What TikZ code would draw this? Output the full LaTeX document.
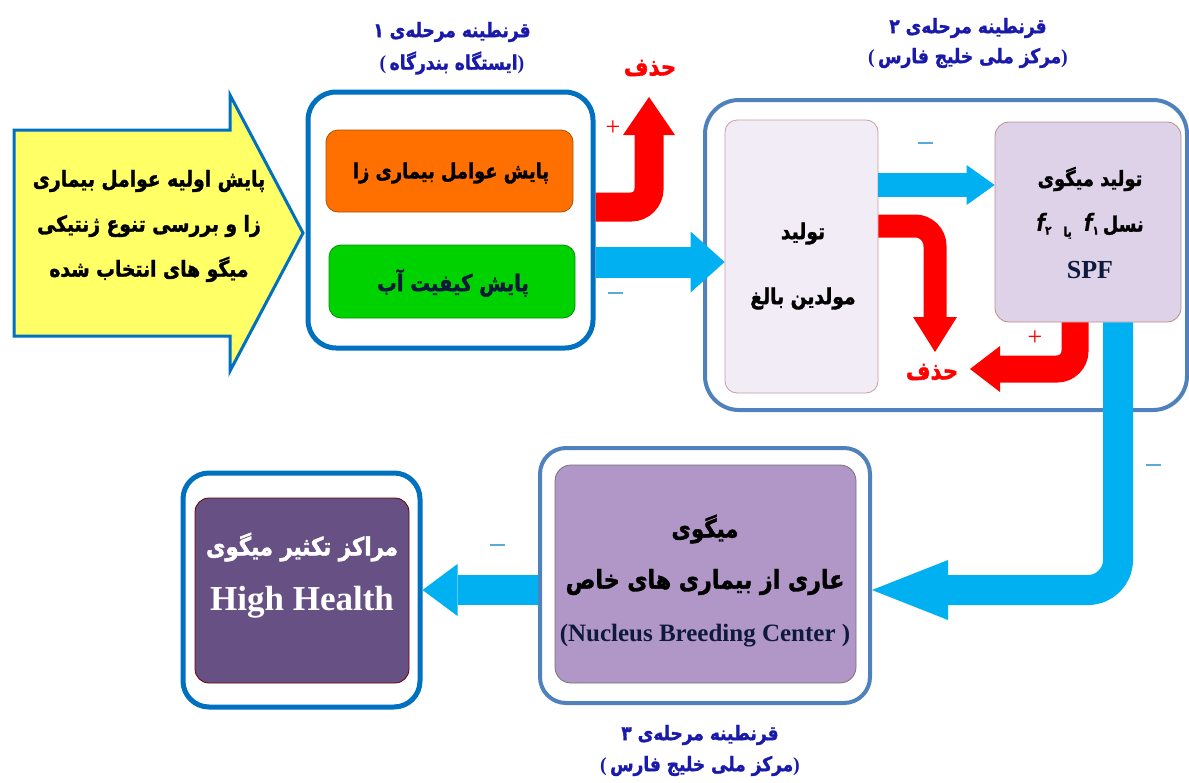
\documentclass[tikz,border=0pt]{standalone}
\usepackage{fontspec}
\setmainfont{Liberation Serif}
\newfontfamily\fa[Script=Arabic,FakeStretch=0.85,BoldFeatures={FakeBold=1.5}]{DejaVu Sans}
\TeXXeTstate=1
\usetikzlibrary{arrows.meta}
\newcommand\rtl[1]{{\fa\beginR #1\endR}}
\newcommand\lp{{\rmfamily\bfseries(}}
\newcommand\rp{{\rmfamily\bfseries)}}
\newcommand\minusbar{\rule{15pt}{2.5pt}}
\definecolor{boxblue}{RGB}{0,112,192}
\definecolor{steel}{RGB}{79,129,189}
\definecolor{yel}{RGB}{255,255,102}
\definecolor{orng}{RGB}{255,112,0}
\definecolor{grn}{RGB}{0,210,0}
\definecolor{lav1}{RGB}{242,236,246}
\definecolor{lav2}{RGB}{221,210,232}
\definecolor{pur1}{RGB}{176,151,200}
\definecolor{pur2}{RGB}{102,80,132}
\definecolor{lblue}{RGB}{0,176,240}
\definecolor{minus}{RGB}{90,170,220}
\definecolor{ttl}{RGB}{25,25,170}
\definecolor{navy}{RGB}{15,25,60}
\begin{document}
\begin{tikzpicture}[x=1pt,y=-1pt,
  outerA/.style={draw=boxblue,line width=5pt,rounded corners=28pt,fill=white,inner sep=0pt},
  outerB/.style={draw=steel,line width=4pt,rounded corners=30pt,fill=white,inner sep=0pt},
  inbox/.style={rounded corners=12pt,line width=0.8pt,inner sep=0pt},
  fatext/.style={font=\fa\bfseries\fontsize{21}{24}\selectfont,align=center,inner sep=0pt},
  ttltext/.style={font=\fa\bfseries\fontsize{20}{23}\selectfont,text=ttl,align=center,inner sep=0pt},
  deltext/.style={font=\fa\bfseries\fontsize{25}{28}\selectfont,text=red,inner sep=0pt},
  signtext/.style={font=\fontsize{26}{26}\selectfont,inner sep=0pt},
  bluearrow/.style={draw=lblue,line cap=butt,line join=miter},
  redarrow/.style={draw=red,line cap=butt,line join=miter},
]
\useasboundingbox (0,0) rectangle (1189,782);

% left yellow arrow
\draw[draw=boxblue,line width=3pt,fill=yel,line join=miter]
  (14,130) -- (230,130) -- (230,95) -- (303,233) -- (230,371) -- (230,336) -- (14,336) -- cycle;
\node[fatext,font=\fa\bfseries\fontsize{22}{45}\selectfont] (intro) at (149,226)
  {\rtl{پایش اولیه عوامل بیماری}\\\rtl{زا و بررسی تنوع ژنتیکی}\\\rtl{میگو های انتخاب شده}};

% stage 1
\node[outerA,minimum width=285pt,minimum height=256pt] (s1) at (450.5,220) {};
\node[inbox,fill=orng,draw=orng!70!black,minimum width=247pt,minimum height=82pt] (mon1) at (449.5,171) {};
\node[fatext] (mon1t) at (451,173) {\rtl{پایش عوامل بیماری زا}};
\node[inbox,fill=grn,draw=grn!70!black,minimum width=246pt,minimum height=73pt] (mon2) at (452,281.5) {};
\node[fatext,font=\fa\bfseries\fontsize{23}{26}\selectfont,text=navy] (mon2t) at (453,283) {\rtl{پایش کیفیت آب}};
\node[ttltext] (t1a) at (452,32) {\rtl{قرنطینه مرحله‌ی ۱}};
\node[ttltext] (t1b) at (452,63) {\lp\,\rtl{ایستگاه بندرگاه}\rp};

% stage 2
\node[outerB,rounded corners=34pt,minimum width=482pt,minimum height=310pt] (s2) at (946,255) {};
\node[inbox,fill=lav1,draw=red!25!gray!60,minimum width=153pt,minimum height=273pt] (b1) at (801.5,256.5) {};
\node[fatext,font=\fa\bfseries\fontsize{22}{65}\selectfont] (b1t) at (803,266) {\rtl{تولید}\\\rtl{مولدین بالغ}};
\node[inbox,rounded corners=14pt,fill=lav2,draw=red!30!gray!70,minimum width=186pt,minimum height=200pt] (b2) at (1088,222) {};
\node[fatext] (b2a) at (1090,179) {\rtl{تولید میگوی}};
\node[fatext,inner sep=0pt] (b2b) at (1090,226)
  {{\bfseries\itshape\fontsize{24}{24}\selectfont f}\raisebox{-3pt}{\fa\bfseries\fontsize{12}{12}\selectfont ۲}\hspace{12pt}\raisebox{-5pt}{\rtl{\fontsize{13}{13}\selectfont یا}}\hspace{12pt}{\bfseries\itshape\fontsize{24}{24}\selectfont f}\raisebox{-3pt}{\fa\bfseries\fontsize{12}{12}\selectfont ۱}\hspace{4pt}\rtl{نسل}};
\node[font=\bfseries\fontsize{26}{26}\selectfont,text=navy,inner sep=0pt] (b2c) at (1090,270) {SPF};
\node[ttltext] (t2a) at (968,28) {\rtl{قرنطینه مرحله‌ی ۲}};
\node[ttltext] (t2b) at (968,58) {\lp\,\rtl{مرکز ملی خلیج فارس}\rp};

% stage 3
\node[outerB,rounded corners=26pt,minimum width=330pt,minimum height=255pt] (s3) at (705,575.5) {};
\node[inbox,rounded corners=16pt,fill=pur1,draw=black!55,minimum width=301pt,minimum height=218pt] (c3) at (705.5,574) {};
\node[fatext,font=\fa\bfseries\fontsize{25}{28}\selectfont] (c3a) at (705,529) {\rtl{میگوی}};
\node[fatext,font=\fa\bfseries\fontsize{26}{29}\selectfont] (c3b) at (705,582) {\rtl{عاری از بیماری های خاص}};
\node[font=\bfseries\fontsize{25}{25}\selectfont,text=navy,inner sep=0pt] (c3c) at (705,636) {(Nucleus Breeding Center )};
\node[ttltext] (t3a) at (700,735) {\rtl{قرنطینه مرحله‌ی ۳}};
\node[ttltext] (t3b) at (700,766) {\lp\,\rtl{مرکز ملی خلیج فارس}\rp};

% high health
\node[outerA,rounded corners=26pt,minimum width=237pt,minimum height=234pt] (hh) at (301.5,590) {};
\node[inbox,rounded corners=14pt,fill=pur2,draw=red!40!black,minimum width=214pt,minimum height=185pt] (hhi) at (302,590.5) {};
\node[fatext,text=white,font=\fa\bfseries\fontsize{25}{28}\selectfont] (hha) at (302,547) {\rtl{مراکز تکثیر میگوی}};
\node[font=\bfseries\fontsize{35}{35}\selectfont,text=white,inner sep=0pt] (hhb) at (302,602) {High Health};

% removal targets
\coordinate (d1) at (649,97);
\node[deltext] (del1) at (650,68) {\rtl{حذف}};
\coordinate (d2) at (935,352);
\node[deltext] (del2) at (932,372) {\rtl{حذف}};
\coordinate (d3) at (970,369);

% arrows stage 1
\draw[redarrow,line width=29pt,rounded corners=18pt,-{Triangle[width=52pt,length=38pt,line width=0pt]}]
  ([yshift=13pt]s1.east) -| (d1);
\draw[bluearrow,line width=31pt,-{Triangle[width=61pt,length=34pt,line width=0pt]}]
  ([yshift=-42pt]s1.east) coordinate (a1) -- (a1 -| b1.west);
\node[signtext,text=red] (p1) at (613,128) {+};
\node[text=minus,inner sep=0pt] (m1) at (615,293) {\minusbar};

% arrows stage 2
\draw[bluearrow,line width=24pt,-{Triangle[width=40pt,length=28pt,line width=0pt]}]
  ([yshift=71.5pt]b1.east) coordinate (a2) -- (a2 -| b2.west);
\node[text=minus,inner sep=0pt] (m2) at (925,143) {\minusbar};
\draw[redarrow,line width=23pt,rounded corners=20pt,-{Triangle[width=44pt,length=35pt,line width=0pt]}]
  ([yshift=30.5pt]b1.east) -| (d2);
\draw[redarrow,line width=27pt,rounded corners=18pt,-{Triangle[width=46pt,length=30pt,line width=0pt]}]
  ([xshift=-13pt]b2.south) |- (d3);
\node[signtext,text=red] (p2) at (1035,338) {+};
\draw[bluearrow,line width=30pt,rounded corners=30pt,-{Triangle[width=60pt,length=76pt,line width=0pt]}]
  ([xshift=30pt]b2.south) |- ([yshift=-14.5pt]s3.east);
\node[text=minus,inner sep=0pt] (m3) at (1153,465) {\minusbar};

% arrow stage 3 to high health
\draw[bluearrow,line width=30pt,-{Triangle[width=52pt,length=35pt,line width=0pt]}]
  ([yshift=-14.5pt]s3.west) coordinate (a4) -- (a4 -| hh.east);
\node[text=minus,inner sep=0pt] (m4) at (497,545) {\minusbar};
\end{tikzpicture}
\end{document}
